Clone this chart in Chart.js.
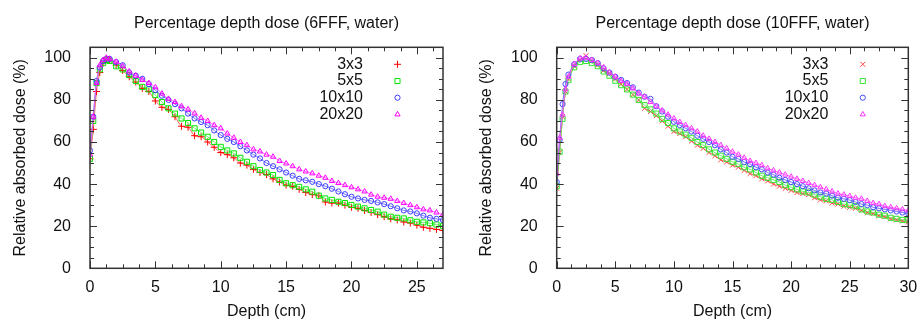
<!DOCTYPE html>
<html>
<head>
<meta charset="utf-8">
<script src="https://cdn.jsdelivr.net/npm/chart.js@4.4.0/dist/chart.umd.min.js"></script>
<style>
html, body { margin: 0; padding: 0; background: #fff; }
#wrap { position: relative; width: 920px; height: 320px; }
.panel { position: absolute; top: 0; width: 460px; height: 320px; }
</style>
</head>
<body>
<div id="wrap">
  <div class="panel" style="left:0"><canvas id="c6" width="460" height="320"></canvas></div>
  <div class="panel" style="left:460px"><canvas id="c10" width="460" height="320"></canvas></div>
</div>
<script>
// ---- data ----
const SERIES_LABELS = ['3x3', '5x5', '10x10', '20x20'];
const Y_TICKS = [0, 20, 40, 60, 80, 100];

// 6FFF panel
const X_TICKS_6 = [0, 5, 10, 15, 20, 25];
const DEPTH_6 = [0, 0.25, 0.5, 0.75, 1, 1.25, 1.5, 2, 2.5, 3, 3.5, 4, 4.5, 5, 5.5, 6, 6.5, 7, 7.5, 8, 8.5, 9, 9.5, 10,
  10.5, 11, 11.5, 12, 12.5, 13, 13.5, 14, 14.5, 15, 15.5, 16, 16.5, 17, 17.5, 18, 18.5, 19, 19.5, 20,
  20.5, 21, 21.5, 22, 22.5, 23, 23.5, 24, 24.5, 25, 25.5, 26, 26.5, 27];
const PDD6_3x3 = [52, 66, 84, 93, 97.5, 99.5, 99, 96.5, 94, 91, 88.5, 85.5, 84, 79.5, 76.5, 75.5, 72, 67.5, 67, 63,
  62.5, 60, 57.5, 55, 54, 52.5, 50, 49, 47, 45.5, 44.5, 42.5, 41, 39.5, 39, 37.5, 36, 35, 34.5, 31.5,
  31, 31, 30, 29, 28.5, 27.5, 26.5, 25.5, 24.5, 23.5, 23, 22, 21.5, 20.5, 19.5, 19, 18.5, 18];
const PDD6_5x5 = [52, 70, 88, 94.5, 97.5, 99, 98.5, 96, 94.5, 91.8, 89, 86.2, 85, 82.3, 79, 76, 73.5, 71.2, 69, 66.5,
  64.5, 62.5, 60, 57.7, 56, 54.6, 52.5, 50.6, 48.5, 46.7, 45.5, 44.3, 42, 40.4, 39.5, 38.7, 37.5, 36.4, 34.5, 33.2,
  32.5, 31.6, 31, 30.1, 29.3, 28.5, 27.7, 26.9, 25.5, 24.5, 24, 23.7, 22.8, 22.1, 21.8, 21.4, 20.8, 20.2];
const PDD6_10x10 = [56, 72, 89, 95.5, 98.5, 99.5, 99.5, 98, 96.5, 93, 91.5, 90, 87.5, 84.6, 82, 80, 78, 76, 73.5, 71.2,
  69.5, 68, 65.5, 63.3, 61.5, 60, 58, 56, 54, 52.2, 50, 48.5, 47, 45.5, 44, 42.5, 41.8, 41.1, 40, 39,
  37.8, 36.5, 35.2, 34, 33.2, 32.5, 32, 31.3, 30.5, 29.5, 28.5, 27.5, 27, 26.1, 25, 24, 23.5, 22.9];
const PDD6_20x20 = [54, 72, 88, 96.5, 99, 100, 99.5, 98.1, 96, 93.5, 91.5, 89.5, 88, 86, 83, 80.5, 79, 77, 75.5, 73.6,
  71.5, 70, 68, 66.5, 64, 62, 60, 58.5, 56.5, 55.5, 54, 53, 51, 49.8, 48.5, 47, 46, 45.1, 44, 43,
  41.5, 40.5, 39.5, 38.5, 37.5, 36.5, 35, 34, 33.5, 33, 32, 31, 30, 29, 28, 27.5, 26.5, 25.5];

// 10FFF panel
const X_TICKS_10 = [0, 5, 10, 15, 20, 25, 30];
const DEPTH_10 = [0, 0.25, 0.5, 0.75, 1, 1.5, 2, 2.5, 3, 3.5, 4, 4.5, 5, 5.5, 6, 6.5, 7, 7.5, 8, 8.5, 9, 9.5, 10,
  10.5, 11, 11.5, 12, 12.5, 13, 13.5, 14, 14.5, 15, 15.5, 16, 16.5, 17, 17.5, 18, 18.5, 19, 19.5, 20,
  20.5, 21, 21.5, 22, 22.5, 23, 23.5, 24, 24.5, 25, 25.5, 26, 26.5, 27, 27.5, 28, 28.5, 29, 29.5, 30];
const PDD10_3x3 = [38, 55, 72, 84, 90, 96, 99, 101, 98.5, 96.5, 94, 92.5, 90, 87.5, 85, 82.5, 80, 76, 74.5, 72.5,
  70, 67.5, 65, 64, 62.5, 60.5, 58.5, 57, 55, 53.5, 51.5, 50.5, 49, 48, 46.5, 45, 44, 42.5, 41.5, 40,
  39, 38, 37, 36, 35.5, 35, 33.5, 32.5, 32, 31, 30.5, 29.5, 29, 28.5, 27.5, 26.5, 26, 25, 24.5, 23.5,
  23, 22.5, 22];
const PDD10_5x5 = [39, 55.4, 71, 84, 89.4, 95.5, 98, 98.5, 97.5, 96, 93.5, 91.5, 89.1, 87, 85, 82.5, 80, 77.5, 75.5, 73.5,
  71, 69, 66.5, 65, 63.5, 62, 60, 58.5, 56.5, 55, 53.5, 52, 50.6, 49.5, 48, 47, 45.5, 44, 43, 42,
  41, 39.5, 38.5, 37.5, 36.5, 36, 35, 34, 33, 32.5, 31.5, 30.5, 30, 29.5, 28, 27, 26.5, 25.5, 25, 24,
  23.5, 23, 23];
const PDD10_10x10 = [41, 61, 78, 87.5, 92, 97, 99.5, 99.5, 99, 97.5, 95, 93, 91, 89.5, 88, 86, 83.5, 81.5, 80.5, 77,
  74.5, 72, 69.6, 68, 66.5, 65, 63, 61.5, 60, 58.5, 56.5, 55, 53, 52, 50.5, 49.5, 48, 47, 45.5, 44.5,
  43, 42, 41, 40, 39, 38, 37, 36, 35.5, 34.5, 33.5, 33, 32.4, 31.5, 30.5, 30, 29, 28.5, 28, 27.5,
  27, 26.5, 26];
const PDD10_20x20 = [45, 62, 73, 85, 91, 97, 99.8, 100, 99, 97.5, 95.5, 93, 91, 89, 87.5, 85.5, 83, 81.5, 79, 77,
  75, 73, 71.2, 69.5, 68, 66.5, 65, 63, 61.5, 60, 58.5, 57, 55.4, 54, 52.5, 51, 50, 49, 47.5, 46.5,
  45.5, 44.5, 43.5, 42.5, 41.5, 40.5, 39.5, 38.5, 37.5, 36.5, 35.5, 35, 34.3, 33.5, 33, 32, 31, 30.5, 29.5, 29,
  28.5, 28, 27.5];

// ---- look ----
const FONT = "'Liberation Sans', Arial, Helvetica, sans-serif";
Chart.defaults.font.family = FONT;
Chart.defaults.font.size = 16;
Chart.defaults.color = '#111';

const POINT_RADII = [3.5, 3.6, 2.6, 3];
const LINE_COLORS = ['rgba(255,70,70,0.85)', 'rgba(80,240,80,0.85)', 'rgba(90,90,255,0.85)', 'rgba(255,80,255,0.85)'];

function drawMarker(ctx, style, x, y, r, color) {
  ctx.save();
  ctx.strokeStyle = color;
  ctx.fillStyle = 'rgba(0,0,0,0)';
  ctx.lineWidth = 1;
  Chart.helpers.drawPoint(ctx, { pointStyle: style, radius: r, borderWidth: 1, rotation: 0 }, x, y);
  ctx.restore();
}

// inward ticks on all four sides, gnuplot style
const gnuFrame = {
  id: 'gnuFrame',
  afterDatasetsDraw(chart, args, o) {
    const { ctx, chartArea: a, scales: { x, y } } = chart;
    const isMajor = (v, step) => Math.abs(v / step - Math.round(v / step)) < 1e-6;
    ctx.save();
    ctx.strokeStyle = '#333';
    ctx.lineWidth = 1;
    ctx.beginPath();
    for (let v = 0; v <= x.max + 1e-6; v += o.xMinor) {
      const px = Math.round(x.getPixelForValue(v)) + 0.5;
      const len = isMajor(v, o.xMajor) ? 7 : 4;
      ctx.moveTo(px, a.bottom); ctx.lineTo(px, a.bottom - len);
      ctx.moveTo(px, a.top); ctx.lineTo(px, a.top + len);
    }
    for (let v = 0; v <= y.max + 1e-6; v += o.yMinor) {
      const py = Math.round(y.getPixelForValue(v)) + 0.5;
      const len = isMajor(v, o.yMajor) ? 7 : 4;
      ctx.moveTo(a.left, py); ctx.lineTo(a.left + len, py);
      ctx.moveTo(a.right, py); ctx.lineTo(a.right - len, py);
    }
    ctx.stroke();
    ctx.lineWidth = 1.5;
    ctx.strokeRect(a.left, a.top, a.right - a.left, a.bottom - a.top);
    ctx.restore();
  }
};

// key in the top right corner: label right-aligned, then the marker
const gnuLegend = {
  id: 'gnuLegend',
  afterDraw(chart) {
    const { ctx, chartArea: a } = chart;
    ctx.save();
    ctx.font = '16px ' + FONT;
    ctx.fillStyle = '#111';
    ctx.textAlign = 'right';
    ctx.textBaseline = 'middle';
    chart.data.datasets.forEach((ds, i) => {
      const yy = a.top + 17 + i * 16.7;
      ctx.fillText(ds.label, a.right - 80, yy);
      drawMarker(ctx, ds.pointStyle, a.right - 45.5, yy, ds.pointRadius, ds.pointBorderColor);
    });
    ctx.restore();
  }
};

function makeChart(id, cfg) {
  const datasets = cfg.series.map((vals, i) => ({
    label: SERIES_LABELS[i],
    data: cfg.depth.map((d, k) => ({ x: d, y: vals[k] })),
    showLine: true,
    borderColor: LINE_COLORS[i],
    borderWidth: 1,
    tension: 0.3,
    pointStyle: cfg.styles[i],
    pointRadius: POINT_RADII[i],
    pointBorderColor: cfg.colors[i],
    pointBackgroundColor: 'rgba(0,0,0,0)',
    pointBorderWidth: 1,
    order: 4 - i
  }));

  return new Chart(document.getElementById(id), {
    type: 'scatter',
    data: { datasets },
    options: {
      responsive: false,
      animation: false,
      devicePixelRatio: 1,
      layout: { padding: { left: 0, right: cfg.padRight, top: 0, bottom: 0 } },
      plugins: {
        legend: { display: false },
        tooltip: { enabled: false },
        title: {
          display: true, text: cfg.title, fullSize: false, color: '#111',
          font: { size: 16, weight: 'normal' },
          padding: { top: 14.4, bottom: 13.7 }
        },
        gnuFrame: { xMajor: 5, xMinor: 1.25, yMajor: 20, yMinor: 5 }
      },
      scales: {
        x: {
          type: 'linear', min: 0, max: cfg.xMax,
          grid: { display: false }, border: { display: false },
          ticks: { padding: 2, color: '#111', maxRotation: 0 },
          afterBuildTicks: s => { s.ticks = cfg.xTicks.map(v => ({ value: v })); },
          afterFit: s => { s.height = 51.7; },
          title: { display: true, text: 'Depth (cm)', color: '#111', padding: { top: 0, bottom: -1.5 } }
        },
        y: {
          type: 'linear', min: 0, max: 105,
          grid: { display: false }, border: { display: false },
          ticks: { padding: 11, color: '#111' },
          afterBuildTicks: s => { s.ticks = Y_TICKS.map(v => ({ value: v })); },
          afterFit: s => { s.width = cfg.yWidth; },
          title: { display: true, text: 'Relative absorbed dose (%)', color: '#111', padding: { top: cfg.yTitlePad, bottom: 0 } }
        }
      }
    },
    plugins: [gnuFrame, gnuLegend]
  });
}

makeChart('c6', {
  title: 'Percentage depth dose (6FFF, water)',
  depth: DEPTH_6,
  series: [PDD6_3x3, PDD6_5x5, PDD6_10x10, PDD6_20x20],
  styles: ['cross', 'rect', 'circle', 'triangle'],
  colors: ['#ff0000', '#00e600', '#3c3cff', '#ff00ff'],
  xMax: 27, xTicks: X_TICKS_6,
  yWidth: 90, padRight: 17, yTitlePad: 11.4
});

makeChart('c10', {
  title: 'Percentage depth dose (10FFF, water)',
  depth: DEPTH_10,
  series: [PDD10_3x3, PDD10_5x5, PDD10_10x10, PDD10_20x20],
  styles: ['crossRot', 'rect', 'circle', 'triangle'],
  colors: ['#ff4444', '#33e633', '#4848ff', '#ff33ff'],
  xMax: 30, xTicks: X_TICKS_10,
  yWidth: 96.7, padRight: 11.7, yTitlePad: 17.4
});
</script>
</body>
</html>
